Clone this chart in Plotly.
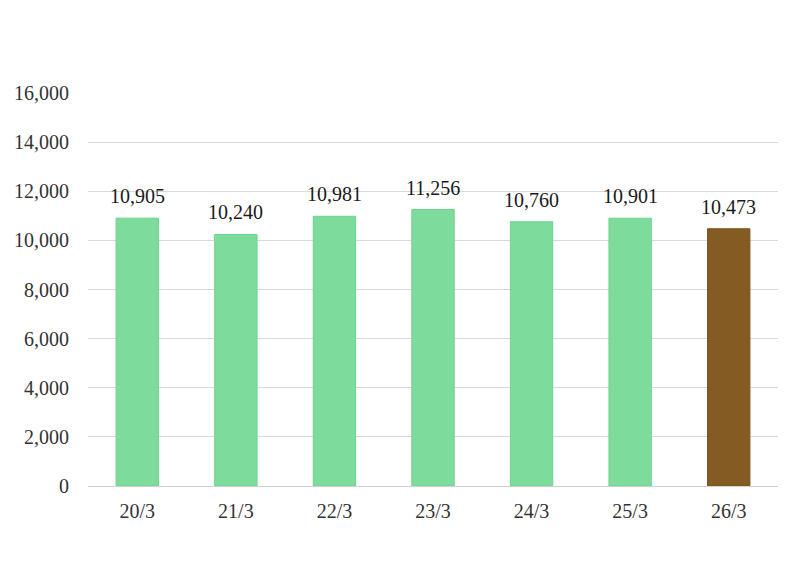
import plotly.graph_objects as go

categories = ["20/3", "21/3", "22/3", "23/3", "24/3", "25/3", "26/3"]
values = [10905, 10240, 10981, 11256, 10760, 10901, 10473]
colors = ["#7ddc9b"] * 6 + ["#845c23"]
line_colors = ["#6fd38e"] * 6 + ["#7a531d"]
tick_vals = list(range(0, 16001, 2000))

fig = go.Figure(go.Bar(
    x=categories, y=values,
    marker=dict(color=colors, line=dict(color=line_colors, width=1)),
    hoverinfo="x+y",
))

for c, v in zip(categories, values):
    fig.add_annotation(x=c, y=v, text=f"{v:,}", showarrow=False,
                       yanchor="bottom", yshift=9,
                       font=dict(family="Liberation Serif", size=20, color="#1a1a1a"))

fig.update_layout(
    width=800, height=567,
    margin=dict(l=80, r=30, t=85, b=89),
    paper_bgcolor="white", plot_bgcolor="white",
    bargap=0.57,
    showlegend=False,
    font=dict(family="Liberation Serif", size=20, color="#333333"),
)
fig.update_yaxes(range=[0, 16000], tickvals=tick_vals, tickformat=",",
                 gridcolor="#d9d9d9", gridwidth=1, zeroline=False,
                 showline=False, ticks="", ticklabelstandoff=18,
                 automargin=False)
fig.update_xaxes(showline=True, linecolor="#d0d0d0", linewidth=1, ticks="",
                 ticklabelstandoff=7, automargin=False)

fig.write_html("out.html")
